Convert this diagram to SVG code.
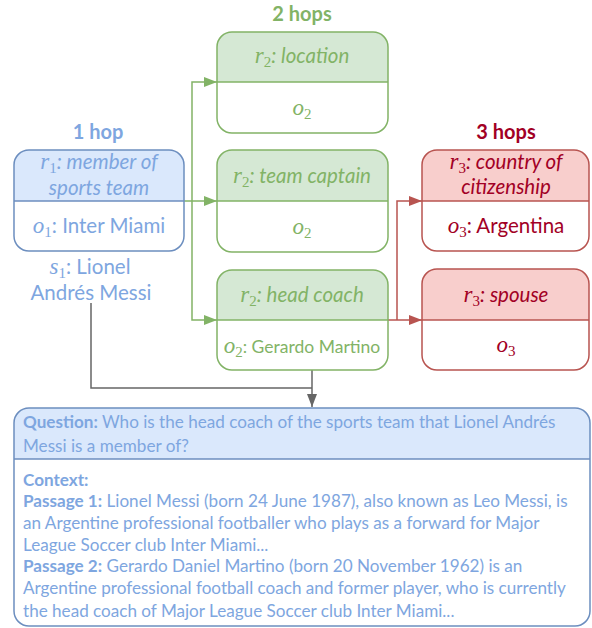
<svg xmlns="http://www.w3.org/2000/svg" width="592" height="628" viewBox="0 0 592 628">
<defs>
<style>
.t{font-family:Lato,"Open Sans",sans-serif;}
.lbl{font-size:20.5px;text-anchor:middle;}
.it{font-style:italic;}
.m{font-family:"Liberation Serif",serif;font-style:italic;font-size:23px;}
.sub{font-family:"Liberation Serif",serif;font-style:normal;font-size:15px;}
.blue{fill:#7ea6e0;}
.green{fill:#82b366;}
.red{fill:#a20025;}
.hdr{font-size:20px;font-weight:bold;text-anchor:middle;}
.q{font-size:17.1px;fill:#7ea6e0;}
.b{font-weight:bold;}
.bx{fill:none;stroke-width:1.5;}
.conn{fill:none;stroke-width:1.5;}
</style>
<marker id="ag" viewBox="0 0 13 10" refX="13" refY="5" markerWidth="13" markerHeight="10" markerUnits="userSpaceOnUse" orient="auto"><path d="M0,0 L13,5 L0,10 Z" fill="#82b366"/></marker>
<marker id="ar" viewBox="0 0 13 10" refX="13" refY="5" markerWidth="13" markerHeight="10" markerUnits="userSpaceOnUse" orient="auto"><path d="M0,0 L13,5 L0,10 Z" fill="#b85450"/></marker>
<marker id="ak" viewBox="0 0 13 10" refX="13" refY="5" markerWidth="13" markerHeight="10" markerUnits="userSpaceOnUse" orient="auto"><path d="M0,0 L13,5 L0,10 Z" fill="#666666"/></marker>
</defs>
<rect width="592" height="628" fill="#ffffff"/>

<g id="headers" class="t">
<text x="98" y="139" class="hdr blue">1 hop</text>
<text x="302" y="21" class="hdr green">2 hops</text>
<text x="506" y="139" class="hdr red">3 hops</text>
</g>

<g id="connectors">
<path class="conn" stroke="#82b366" d="M184,201 H217" marker-end="url(#ag)"/>
<path class="conn" stroke="#82b366" d="M192,201 V82 H217" marker-end="url(#ag)"/>
<path class="conn" stroke="#82b366" d="M192,201 V320 H217" marker-end="url(#ag)"/>
<path class="conn" stroke="#b85450" d="M388,320 H422" marker-end="url(#ar)"/>
<path class="conn" stroke="#b85450" d="M397,320 V201 H422" marker-end="url(#ar)"/>
<path class="conn" stroke="#666666" d="M91,303 V388 H312"/>
<path class="conn" stroke="#666666" d="M312,370 V407" marker-end="url(#ak)"/>
</g>

<g id="n1">
<path d="M14,201 V165 A15,15 0 0 1 29,150 H169 A15,15 0 0 1 184,165 V201 Z" fill="#dae8fc"/>
<rect x="14" y="150" width="170" height="101" rx="15" class="bx" stroke="#6c8ebf"/>
<line x1="14" y1="201" x2="184" y2="201" stroke="#6c8ebf" stroke-width="1.5"/>
<text x="99" y="169" class="t lbl it blue"><tspan class="m">r</tspan><tspan class="sub" dy="4">1</tspan><tspan dy="-4">: member of</tspan></text>
<text x="99" y="195" class="t lbl it blue">sports team</text>
<text x="99" y="233" class="t lbl blue"><tspan class="m">o</tspan><tspan class="sub" dy="4">1</tspan><tspan dy="-4">: Inter Miami</tspan></text>
<text x="90" y="274" class="t lbl blue"><tspan class="m">s</tspan><tspan class="sub" dy="4">1</tspan><tspan dy="-4">: Lionel</tspan></text>
<text x="91" y="300" class="t lbl blue">Andrés Messi</text>
</g>

<g id="n2a">
<path d="M217,82 V47 A15,15 0 0 1 232,32 H373 A15,15 0 0 1 388,47 V82 Z" fill="#d5e8d4"/>
<rect x="217" y="32" width="171" height="101" rx="15" class="bx" stroke="#82b366"/>
<line x1="217" y1="82" x2="388" y2="82" stroke="#82b366" stroke-width="1.5"/>
<text x="302" y="63" class="t lbl it green"><tspan class="m">r</tspan><tspan class="sub" dy="4">2</tspan><tspan dy="-4">: location</tspan></text>
<text x="302" y="115" class="t lbl green"><tspan class="m">o</tspan><tspan class="sub" dy="4">2</tspan></text>
</g>

<g id="n2b">
<path d="M217,201 V165 A15,15 0 0 1 232,150 H373 A15,15 0 0 1 388,165 V201 Z" fill="#d5e8d4"/>
<rect x="217" y="150" width="171" height="102" rx="15" class="bx" stroke="#82b366"/>
<line x1="217" y1="201" x2="388" y2="201" stroke="#82b366" stroke-width="1.5"/>
<text x="302" y="183" class="t lbl it green"><tspan class="m">r</tspan><tspan class="sub" dy="4">2</tspan><tspan dy="-4">: team captain</tspan></text>
<text x="302" y="234" class="t lbl green"><tspan class="m">o</tspan><tspan class="sub" dy="4">2</tspan></text>
</g>

<g id="n2c">
<path d="M217,320 V285 A15,15 0 0 1 232,270 H373 A15,15 0 0 1 388,285 V320 Z" fill="#d5e8d4"/>
<rect x="217" y="270" width="171" height="100" rx="15" class="bx" stroke="#82b366"/>
<line x1="217" y1="320" x2="388" y2="320" stroke="#82b366" stroke-width="1.5"/>
<text x="302" y="302" class="t lbl it green"><tspan class="m">r</tspan><tspan class="sub" dy="4">2</tspan><tspan dy="-4">: head coach</tspan></text>
<text x="302" y="353" class="t lbl green" style="font-size:17.5px"><tspan class="m">o</tspan><tspan class="sub" dy="4">2</tspan><tspan dy="-4">: Gerardo Martino</tspan></text>
</g>

<g id="n3a">
<path d="M422,201 V165 A15,15 0 0 1 437,150 H574 A15,15 0 0 1 589,165 V201 Z" fill="#f8cecc"/>
<rect x="422" y="150" width="167" height="101" rx="15" class="bx" stroke="#b85450"/>
<line x1="422" y1="201" x2="589" y2="201" stroke="#b85450" stroke-width="1.5"/>
<text x="506" y="169" class="t lbl it red"><tspan class="m">r</tspan><tspan class="sub" dy="4">3</tspan><tspan dy="-4">: country of</tspan></text>
<text x="506" y="194" class="t lbl it red">citizenship</text>
<text x="506" y="233" class="t lbl red"><tspan class="m">o</tspan><tspan class="sub" dy="4">3</tspan><tspan dy="-4">: Argentina</tspan></text>
</g>

<g id="n3b">
<path d="M422,320 V284 A15,15 0 0 1 437,269 H574 A15,15 0 0 1 589,284 V320 Z" fill="#f8cecc"/>
<rect x="422" y="269" width="167" height="101" rx="15" class="bx" stroke="#b85450"/>
<line x1="422" y1="320" x2="589" y2="320" stroke="#b85450" stroke-width="1.5"/>
<text x="506" y="302" class="t lbl it red"><tspan class="m">r</tspan><tspan class="sub" dy="4">3</tspan><tspan dy="-4">: spouse</tspan></text>
<text x="506" y="352" class="t lbl red"><tspan class="m">o</tspan><tspan class="sub" dy="4">3</tspan></text>
</g>

<g id="question">
<path d="M14,459 V423 A15,15 0 0 1 29,408 H575 A15,15 0 0 1 590,423 V459 Z" fill="#dae8fc"/>
<rect x="14" y="408" width="576" height="218" rx="15" class="bx" stroke="#6c8ebf"/>
<line x1="14" y1="459" x2="590" y2="459" stroke="#6c8ebf" stroke-width="1.5"/>
<text x="23" y="428" class="t q"><tspan class="b">Question:</tspan> Who is the head coach of the sports team that Lionel Andrés</text>
<text x="23" y="452" class="t q">Messi is a member of?</text>
<text x="23" y="486" class="t q b">Context:</text>
<text x="23" y="507" class="t q"><tspan class="b">Passage 1:</tspan> Lionel Messi (born 24 June 1987), also known as Leo Messi, is</text>
<text x="23" y="529" class="t q">an Argentine professional footballer who plays as a forward for Major</text>
<text x="23" y="551" class="t q">League Soccer club Inter Miami...</text>
<text x="23" y="572" class="t q"><tspan class="b">Passage 2:</tspan> Gerardo Daniel Martino (born 20 November 1962) is an</text>
<text x="23" y="594" class="t q">Argentine professional football coach and former player, who is currently</text>
<text x="23" y="617" class="t q">the head coach of Major League Soccer club Inter Miami...</text>
</g>
</svg>
